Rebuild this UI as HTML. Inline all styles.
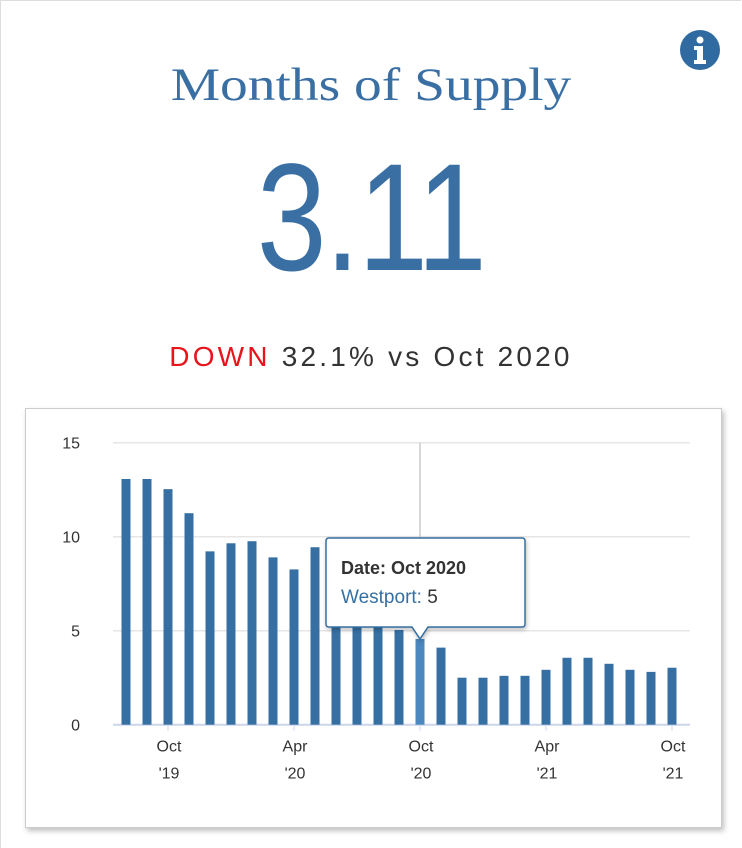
<!DOCTYPE html>
<html><head><meta charset="utf-8"><style>
body{margin:0;width:742px;height:848px;background:#fff;font-family:"Liberation Sans",sans-serif;position:relative;overflow:hidden}
#card{position:absolute;left:0;top:0;width:741px;height:848px;border-left:1px solid #ddd;border-top:1px solid #ddd;box-sizing:border-box}
#title{position:absolute;left:0;width:742px;top:58px;text-align:center;font-family:"Liberation Serif",serif;font-size:47px;color:#3a6fa3;transform:scaleX(1.18);transform-origin:371px 0}
#value{position:absolute;left:0;width:742px;top:141px;text-align:center;font-size:153px;color:#3a6fa3;letter-spacing:-2px;line-height:1;font-weight:normal;transform:scaleX(0.82);transform-origin:371px 0}
#change{position:absolute;left:0;width:742px;top:341px;text-align:center;font-size:28px;color:#333;letter-spacing:3.2px}
#chartbox{position:absolute;left:25px;top:408px;width:697px;height:420px;border:1px solid #ccc;box-shadow:2px 3px 5px rgba(0,0,0,.25);box-sizing:border-box;background:#fff}
</style></head><body>
<div id="card"></div>
<svg style="position:absolute;left:680px;top:30px" width="42" height="42">
<circle cx="20" cy="20" r="20" fill="#2f6aa0"/>
<circle cx="20" cy="10" r="3.5" fill="#fff"/>
<path d="M14 16h9v14h3v4H14v-4h3v-10h-3z" fill="#fff"/>
</svg>
<div id="title">Months of Supply</div>
<div id="value">3.11</div>
<div id="change"><span style="color:#e8141c">DOWN</span> 32.1% vs Oct 2020</div>
<div id="chartbox"></div>
<svg id="chart" style="position:absolute;left:0;top:0" width="742" height="848"></svg>
<script>
const months=["Aug 2019","Sep 2019","Oct 2019","Nov 2019","Dec 2019","Jan 2020","Feb 2020","Mar 2020","Apr 2020","May 2020","Jun 2020","Jul 2020","Aug 2020","Sep 2020","Oct 2020","Nov 2020","Dec 2020","Jan 2021","Feb 2021","Mar 2021","Apr 2021","May 2021","Jun 2021","Jul 2021","Aug 2021","Sep 2021","Oct 2021"];
const values=[13.07,13.07,12.53,11.25,9.22,9.65,9.76,8.9,8.26,9.44,6.8,6.0,5.6,5.04,4.56,4.1,2.5,2.5,2.6,2.6,2.92,3.56,3.56,3.24,2.92,2.81,3.03];
const yTicks=[0,5,10,15];
const xTickIdx=[2,8,14,20,26];
const xTickLabels=[["Oct","'19"],["Apr","'20"],["Oct","'20"],["Apr","'21"],["Oct","'21"]];
const hoverIdx=14;
const tipDate="Oct 2020", tipSeries="Westport", tipValue="5";

const svg=document.getElementById('chart');
const NS="http://www.w3.org/2000/svg";
const plotL=113,plotR=690,y0=724.7,yTop=442.7,ymax=15,first=126,step=21;
const x=i=>first+i*step;
const y=v=>y0-(v/ymax)*(y0-yTop);
function mk(t,a){const e=document.createElementNS(NS,t);for(const k in a)e.setAttribute(k,a[k]);svg.appendChild(e);return e;}
yTicks.forEach(t=>{
 const l=mk('line',{x1:plotL,x2:plotR,y1:y(t),y2:y(t),stroke:t===0?'#ccd6eb':'#e6e6e6','stroke-width':t===0?2:1.5});
 
 
 const tx=mk('text',{x:80,y:y(t)+6,'text-anchor':'end','font-size':16,fill:'#333','font-family':'Liberation Sans, sans-serif'});
 tx.textContent=t;
 
 
});
const ch=mk('line',{x1:x(hoverIdx),x2:x(hoverIdx),y1:yTop,y2:y0,stroke:'#ccc','stroke-width':1.5});


values.forEach((v,i)=>{
 const r=mk('rect',{x:x(i)-4.5,y:y(v),width:9,height:y0-y(v),fill:i===hoverIdx?'#4a88bf':'#3670a3'});
 
 
});
xTickIdx.forEach((idx,k)=>{
 const tk=mk('line',{x1:x(idx),x2:x(idx),y1:y0,y2:y0+6,stroke:'#ccd6eb','stroke-width':1});
 
 
 xTickLabels[k].forEach((s,j)=>{
  const t=mk('text',{x:x(idx)+1,y:y0+27+j*27,'text-anchor':'middle','font-size':16,fill:'#333','font-family':'Liberation Sans, sans-serif'});
  t.textContent=s;
  
  
 });
});
const tx0=x(hoverIdx), ty=y(values[hoverIdx]);
const g=mk('g',{});


const bx=326,by=538,bw=199,bh=89;
const p=document.createElementNS(NS,'path');
p.setAttribute('d',`M${bx+3} ${by}h${bw-6}q3 0 3 3v${bh-6}q0 3-3 3H${tx0+8}l-8 ${ty-(by+bh)}l-8 ${-(ty-(by+bh))}H${bx+3}q-3 0-3-3v${-(bh-6)}q0-3 3-3z`);
p.setAttribute('fill','#fff');p.setAttribute('stroke','#3670a3');p.setAttribute('stroke-width','1.5');
p.setAttribute('style','filter:drop-shadow(1px 2px 2px rgba(0,0,0,.25))');
g.appendChild(p);
const t1=document.createElementNS(NS,'text');
t1.setAttribute('x',341);t1.setAttribute('y',574);t1.setAttribute('font-size',18);t1.setAttribute('font-weight','bold');t1.setAttribute('fill','#333');t1.setAttribute('font-family','Liberation Sans, sans-serif');
t1.textContent='Date: '+tipDate;g.appendChild(t1);
const t2=document.createElementNS(NS,'text');
t2.setAttribute('x',341);t2.setAttribute('y',603);t2.setAttribute('font-size',19);t2.setAttribute('font-family','Liberation Sans, sans-serif');
const s1=document.createElementNS(NS,'tspan');s1.setAttribute('fill','#3670a3');s1.textContent=tipSeries+': ';
const s2=document.createElementNS(NS,'tspan');s2.setAttribute('fill','#333');s2.textContent=tipValue;
t2.appendChild(s1);t2.appendChild(s2);g.appendChild(t2);
</script>
</body></html>
